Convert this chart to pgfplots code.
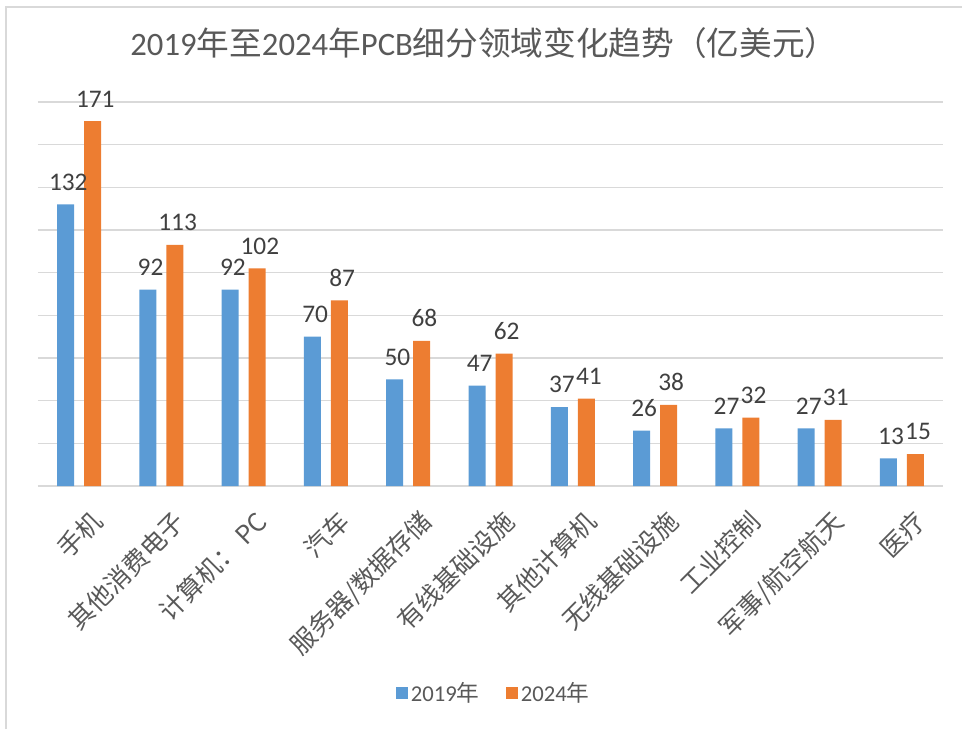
\documentclass[border=0pt]{standalone}
\usepackage{pgfplots}
\pgfplotsset{compat=1.18}
\usepackage{fontspec}
\setmainfont{Carlito}
\newfontfamily\cjk{Noto Sans CJK SC}
\definecolor{bluebar}{HTML}{5B9BD5}
\definecolor{orangebar}{HTML}{ED7D31}
\definecolor{gridc}{HTML}{D9D9D9}
\definecolor{txt}{HTML}{595959}
\definecolor{lbl}{HTML}{404040}

\begin{document}
\begin{tikzpicture}
\useasboundingbox (0,0) rectangle (962*0.75pt,-729*0.75pt);
\draw[gridc, line width=1pt] (6*0.75pt,-729*0.75pt) -- (6*0.75pt,-7*0.75pt) -- (962*0.75pt,-7*0.75pt);
\node[text=txt, font=\fontsize{24.5}{24.5}\selectfont] at (484*0.75pt,-43*0.75pt)
  {2019{\cjk 年至}2024{\cjk 年}PCB{\cjk 细分领域变化趋势（亿美元）}};
\begin{axis}[
  at={(38*0.75pt,-102*0.75pt)}, anchor=north west,
  scale only axis, width=905*0.75pt, height=384*0.75pt,
  ybar=7.5pt, bar width=12.75pt,
  xmin=-0.5, xmax=10.5, ymin=0, ymax=180,
  xtick={0,...,10},
  xticklabels={手机,其他消费电子,计算机： PC,汽车,服务器/数据存储,有线基础设施,其他计算机,无线基础设施,工业控制,军事/航空航天,医疗},
  xticklabel style={rotate=45, anchor=north east, font=\cjk\fontsize{19}{19}\selectfont, text=txt, yshift=-14pt, xshift=-3pt},
  ytick={0,20,...,180}, yticklabels={},
  ymajorgrids, grid style={gridc, line width=1.1pt},
  axis line style={draw=none}, major tick length=0pt,
  clip=false,
  /pgf/number format/assume math mode=true,
  nodes near coords,
  nodes near coords style={font=\fontsize{19}{19}\selectfont, text=lbl, yshift=7pt, xshift=2pt},
  legend style={at={(0.504,-0.539)}, anchor=center, draw=none, legend columns=2,
    font=\fontsize{17}{17}\selectfont, text=txt,
    /tikz/every even column/.append style={column sep=18pt}},
  legend image code/.code={\fill[#1] (0pt,-4.5pt) rectangle (9pt,4.5pt);},
]
\addplot[fill=bluebar, draw=none] coordinates {
(0,132) (1,92) (2,92) (3,70) (4,50) (5,47) (6,37) (7,26) (8,27) (9,27) (10,13)
};
\addplot[fill=orangebar, draw=none] coordinates {
(0,171) (1,113) (2,102) (3,87) (4,68) (5,62) (6,41) (7,38) (8,32) (9,31) (10,15)
};
\legend{2019{\cjk 年},2024{\cjk 年}}
\end{axis}
\end{tikzpicture}
\end{document}
